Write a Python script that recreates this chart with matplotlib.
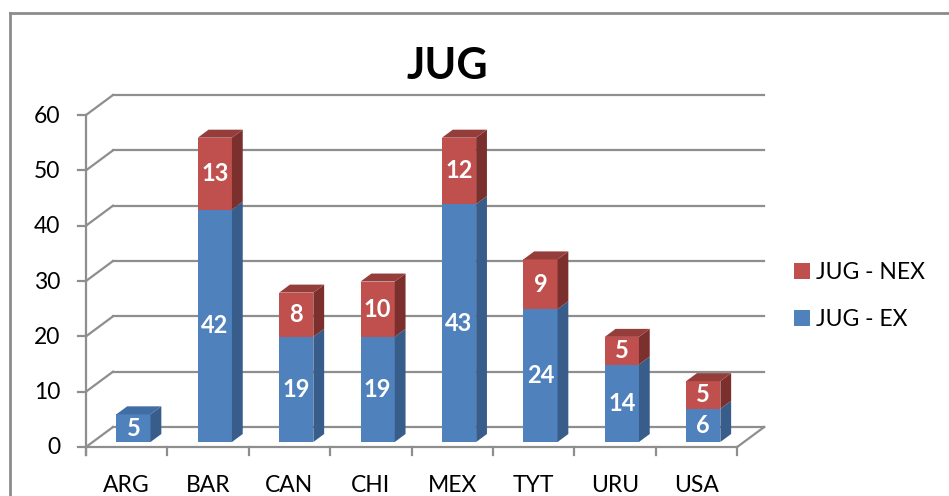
import numpy as np
import matplotlib
matplotlib.use("Agg")
import matplotlib.pyplot as plt
from matplotlib.patches import Polygon
from matplotlib.lines import Line2D

plt.rcParams['font.family'] = ['Lato', 'DejaVu Sans']

# ---------- data ----------
categories = ['ARG', 'BAR', 'CAN', 'CHI', 'MEX', 'TYT', 'URU', 'USA']
jug_ex = [5, 42, 19, 19, 43, 24, 14, 6]
jug_nex = [0, 13, 8, 10, 12, 9, 5, 5]
yticks = [0, 10, 20, 30, 40, 50, 60]

# ---------- colours ----------
blue_front, blue_side, blue_top = '#4F81BD', '#385D8A', '#3F6DA4'
red_front, red_side, red_top = '#C0504D', '#7B302E', '#953D3B'
gridc = '#8E8E8E'

# ---------- geometry (pixel based oblique projection) ----------
W, H = 949, 496
CW = 81.4       # px per category
VS = 5.533      # px per value unit
X0, Y0 = 86, 447  # front origin in px (from top)
ddx = 27 / CW   # full depth offset in data units
ddy = 20 / VS
d1, d2 = 0.25, 0.65   # bar depth slab
bw = 0.42

fig = plt.figure(figsize=(W / 100, H / 100), dpi=100)
ax = fig.add_axes([0, 0, 1, 1])
ax.set_xlim(-X0 / CW, (W - X0) / CW)
ax.set_ylim(-(H - Y0) / VS, Y0 / VS)
ax.axis('off')

n = len(categories)
lw = 1.6

# walls / gridlines
for v in yticks:
    ax.plot([ddx, n + ddx], [v + ddy, v + ddy], color=gridc, lw=lw, zorder=1)
    ax.plot([0, ddx], [v, v + ddy], color=gridc, lw=lw, zorder=1)
    ax.plot([-8 / CW, 0], [v, v], color=gridc, lw=lw, zorder=1)
    ax.text(-26 / CW, v - 7.5 / VS, str(v), ha='right', va='baseline', fontsize=16.5, color='black')
ax.plot([0, 0], [-8 / VS, yticks[-1]], color=gridc, lw=lw, zorder=1)
ax.plot([0, n], [0, 0], color=gridc, lw=lw, zorder=1)
ax.plot([n, n + ddx], [0, ddy], color=gridc, lw=lw, zorder=1)
for i in range(n + 1):
    ax.plot([i, i], [0, -8 / VS], color=gridc, lw=lw, zorder=1)
for i, c in enumerate(categories):
    ax.text(i + 0.5, -(492 - Y0) / VS, c, ha='center', va='baseline', fontsize=16.5)

# bars
xc = np.arange(n) + 0.5 + d1 * ddx
base = d1 * ddy
sx, sy = (d2 - d1) * ddx, (d2 - d1) * ddy
ex = np.array(jug_ex)
nex = np.array(jug_nex)
b1 = ax.bar(xc, ex, width=bw, bottom=base, color=blue_front, zorder=3, label='JUG - EX')
b2 = ax.bar(xc, nex, width=bw, bottom=base + ex, color=red_front, zorder=3, label='JUG - NEX')


def side(x, y0, y1, col):
    xr = x + bw / 2
    ax.add_patch(Polygon([(xr, y0), (xr + sx, y0 + sy), (xr + sx, y1 + sy), (xr, y1)],
                         closed=True, facecolor=col, edgecolor='none', zorder=3))


def top(x, y, col):
    xl, xr = x - bw / 2, x + bw / 2
    ax.add_patch(Polygon([(xl, y), (xr, y), (xr + sx, y + sy), (xl + sx, y + sy)],
                         closed=True, facecolor=col, edgecolor='none', zorder=3))


for i in range(n):
    side(xc[i], base, base + ex[i], blue_side)
    ax.text(xc[i], base + ex[i] / 2, str(ex[i]), ha='center', va='center',
            color='white', fontsize=17, fontweight='bold', zorder=5)
    if nex[i] > 0:
        side(xc[i], base + ex[i], base + ex[i] + nex[i], red_side)
        top(xc[i], base + ex[i] + nex[i], red_top)
        ax.text(xc[i], base + ex[i] + nex[i] / 2, str(nex[i]), ha='center', va='center',
                color='white', fontsize=17, fontweight='bold', zorder=5)
    else:
        top(xc[i], base + ex[i], blue_top)

# title
fig.text(447 / W, 1 - 79 / H, 'JUG', ha='center', va='baseline', fontsize=31, fontweight='bold')

# legend
ax.legend(handles=[b2, b1], loc='upper left', bbox_to_anchor=(794 / W, 1 - 262 / H),
          bbox_transform=fig.transFigure, frameon=False, fontsize=16.5,
          handlelength=0.68, handleheight=0.68, handletextpad=0.3, labelspacing=1.15,
          borderpad=0, borderaxespad=0)

# chart frame
fig.add_artist(Line2D([10 / W, 10 / W], [0, 1 - 13 / H], color='#8C8C8C', lw=2))
fig.add_artist(Line2D([10 / W, 1], [1 - 13 / H, 1 - 13 / H], color='#8C8C8C', lw=2))

fig.savefig('out.png', dpi=100)
